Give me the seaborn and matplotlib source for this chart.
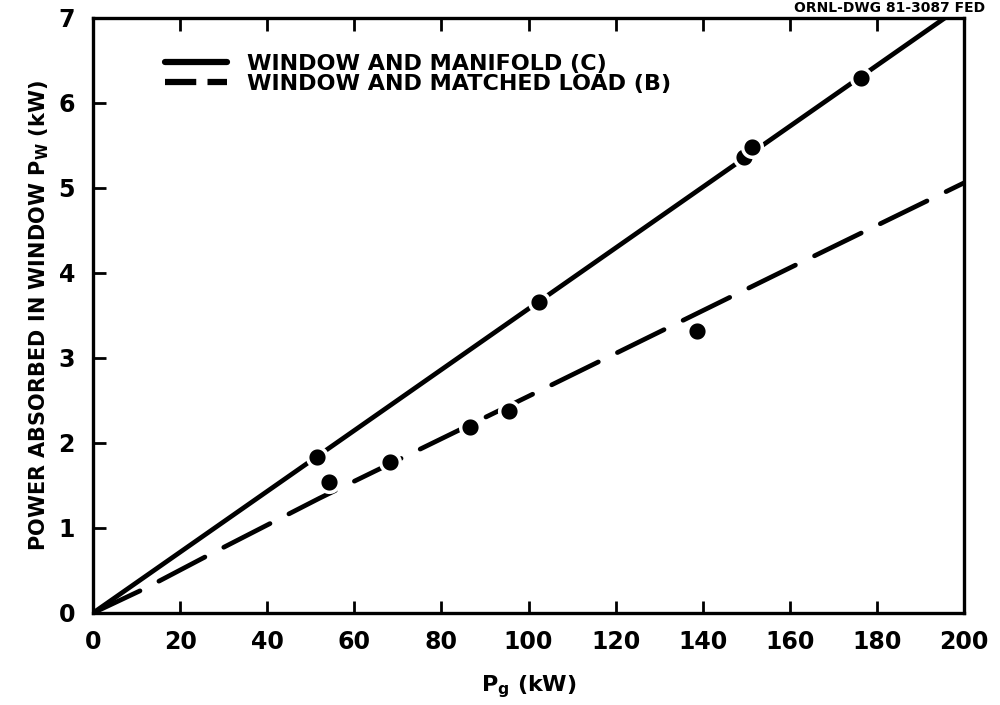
import matplotlib
matplotlib.use("Agg")
import matplotlib.pyplot as plt
from matplotlib.lines import Line2D
import seaborn as sns
import pandas as pd

# Fitted curves
line_c_x = [0, 195.6]
line_c_y = [0, 7.0]
line_b_x = [0, 12, 28, 52, 100, 160, 200]
line_b_y = [0, 0.29, 0.72, 1.35, 2.55, 4.06, 5.06]

# Measured points
pts_c_x = [51.5, 102.5, 149.5, 151.4, 176.4]
pts_c_y = [1.84, 3.66, 5.37, 5.48, 6.29]
pts_b_x = [54.1, 68.1, 86.5, 95.6, 138.8]
pts_b_y = [1.54, 1.78, 2.19, 2.38, 3.32]

label_c = "WINDOW AND MANIFOLD (C)"
label_b = "WINDOW AND MATCHED LOAD (B)"
x_ticks = [0, 20, 40, 60, 80, 100, 120, 140, 160, 180, 200]
y_ticks = [0, 1, 2, 3, 4, 5, 6, 7]

sns.set_theme(style="ticks")
plt.rcParams["font.family"] = ["DejaVu Sans"]
plt.rcParams["font.weight"] = "bold"
plt.rcParams["mathtext.default"] = "bf"
for k in ("text.color", "axes.labelcolor", "xtick.color", "ytick.color",
          "axes.edgecolor"):
    plt.rcParams[k] = "black"

fig = plt.figure(figsize=(10, 7.05), dpi=100)
ax = fig.add_axes([0.093, 0.1305, 0.871, 0.844])

df_c = pd.DataFrame({"x": line_c_x, "y": line_c_y})
df_b = pd.DataFrame({"x": line_b_x, "y": line_b_y})
sns.lineplot(data=df_c, x="x", y="y", ax=ax, color="black", lw=3.4,
             sort=False, estimator=None, solid_capstyle="round")
sns.lineplot(data=df_b, x="x", y="y", ax=ax, color="black", lw=3.4,
             sort=False, estimator=None)
ax.lines[1].set_dashes([11, 4.5])
ax.lines[1].set_dash_capstyle("round")

dp_c = pd.DataFrame({"x": pts_c_x, "y": pts_c_y})
dp_b = pd.DataFrame({"x": pts_b_x, "y": pts_b_y})
for d in (dp_c, dp_b):
    sns.scatterplot(data=d, x="x", y="y", ax=ax, color="black", s=200,
                    edgecolor="white", linewidth=2.5, zorder=5)

ax.set_xlim(0, 200)
ax.set_ylim(0, 7)
ax.set_xticks(x_ticks)
ax.set_yticks(y_ticks)
ax.tick_params(axis="both", direction="in", length=9, width=2,
               labelsize=17, top=True, right=False)
ax.tick_params(axis="x", pad=12)
ax.tick_params(axis="y", pad=13)
for lab in ax.get_xticklabels() + ax.get_yticklabels():
    lab.set_fontweight("bold")
for sp in ax.spines.values():
    sp.set_linewidth(2.4)
    sp.set_color("black")

ax.set_xlabel(r"P$_{\mathbf{g}}$ (kW)", fontsize=16, fontweight="bold", labelpad=14)
ax.set_ylabel(r"POWER ABSORBED IN WINDOW P$_{\mathbf{W}}$ (kW)", fontsize=15,
              fontweight="bold", labelpad=5)

handles = [Line2D([], [], color="black", lw=4.5),
           Line2D([], [], color="black", lw=4.5, dashes=[5, 1.8])]
leg = ax.legend(handles, [label_c, label_b], loc="upper left",
                bbox_to_anchor=(0.06, 0.973), frameon=False, handlelength=2.8,
                handletextpad=0.9, labelspacing=0.0,
                prop={"size": 16, "weight": "bold"})

fig.text(0.985, 0.999, "ORNL-DWG 81-3087 FED", ha="right", va="top",
         fontsize=10, fontweight="bold")

fig.savefig("out.png", dpi=100, facecolor="white")
